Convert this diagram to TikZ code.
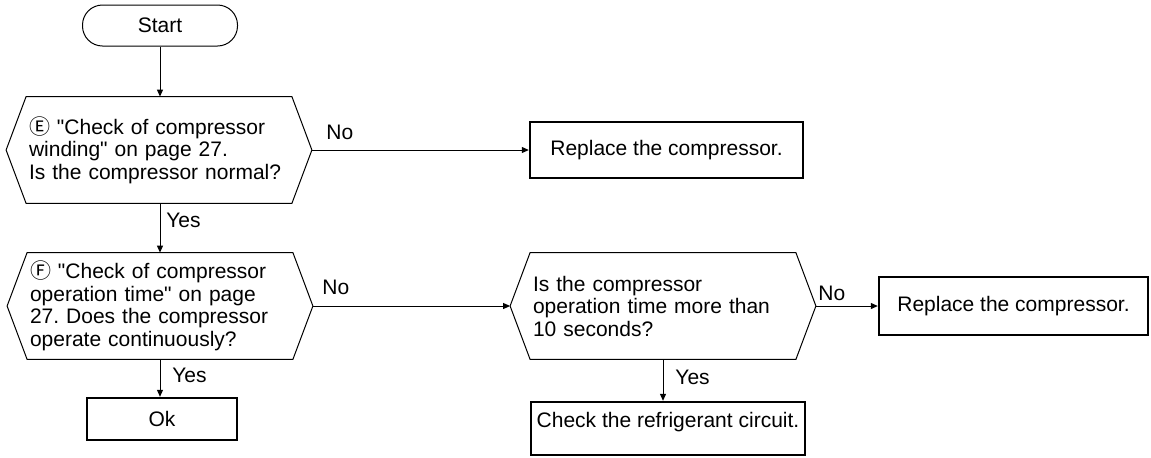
\documentclass[tikz,border=0pt]{standalone}
\usepackage{fontspec}
\setmainfont{Liberation Sans}[Ligatures=TeXOff]
\newfontfamily\circfont{Noto Sans CJK SC}
\usetikzlibrary{arrows.meta}
\frenchspacing

\begin{document}
\begin{tikzpicture}[
    x=0.5pt, y=-0.5pt,
    font=\fontsize{10.5}{11.25}\selectfont,
    startbox/.style={rectangle, draw, line width=0.5pt, rounded corners=10pt,
                     minimum width=77.5pt, minimum height=20.5pt},
    decision/.style={rectangle, text width=130pt, inner xsep=11.25pt,
                     inner ysep=0pt, minimum height=53pt, align=left},
    actbox/.style={rectangle, draw, line width=1.2pt, align=center},
    flow/.style={-{Triangle[length=3.5pt, width=3pt]}, line width=0.5pt},
    lbl/.style={inner sep=0pt, anchor=west},
  ]
    \useasboundingbox (0,0) rectangle (1151,457);

    \node[startbox] (start) at (160,25.5) {Start};

    \node[decision] (q1) at (159,150) {
      {\circfont\fontsize{10.5}{10}\selectfont Ⓔ} "Check of compressor\\
      winding" on page 27.\\
      Is the compressor normal?
    };

    \node[actbox, minimum width=136.5pt, minimum height=28pt] (rep1) at (666.5,150)
      {Replace the compressor.};

    \node[decision] (q2) at (160,306) {
      {\circfont\fontsize{10.5}{10}\selectfont Ⓕ} "Check of compressor\\
      operation time" on page\\
      27. Does the compressor\\
      operate continuously?
    };

    \node[actbox, minimum width=75pt, minimum height=21pt] (ok) at (162,419) {Ok};

    \node[decision] (q3) at (663,306) {
      Is the compressor\\
      operation time more than\\
      10 seconds?
    };

    \node[actbox, minimum width=134.5pt, minimum height=29pt] (rep2) at (1013.5,306)
      {Replace the compressor.};

    \node[actbox, minimum width=137pt, inner xsep=2pt, inner ysep=0pt,
          text height=12.75pt, text depth=13.75pt] (chk) at (668,428.5)
      {Check the refrigerant circuit.};

    \foreach \q in {q1,q2,q3}
      \draw[line width=0.5pt] (\q.west) -- ([xshift=10pt]\q.north west)
        -- ([xshift=-10pt]\q.north east) -- (\q.east)
        -- ([xshift=-10pt]\q.south east) -- ([xshift=10pt]\q.south west) -- cycle;

    \node[lbl] (yes1) at (166,220) {Yes};
    \node[lbl] (no1) at (326,132) {No};
    \node[lbl] (yes2) at (172,375) {Yes};
    \node[lbl] (no2) at (322,287) {No};
    \node[lbl] (no3) at (818,293) {No};
    \node[lbl] (yes3) at (675,377) {Yes};

    \draw[flow] (start) -- (start |- q1.north);
    \draw[flow] (q1.south -| start) -- (start |- q2.north);
    \draw[flow] (q1.east) -- (rep1.west);
    \draw[flow] (q2.south) -- (q2.south |- ok.north);
    \draw[flow] (q2.east) -- (q3.west);
    \draw[flow] (q3.east) -- (rep2.west);
    \draw[flow] (q3.south) -- (q3.south |- chk.north);
  \end{tikzpicture}
\end{document}
